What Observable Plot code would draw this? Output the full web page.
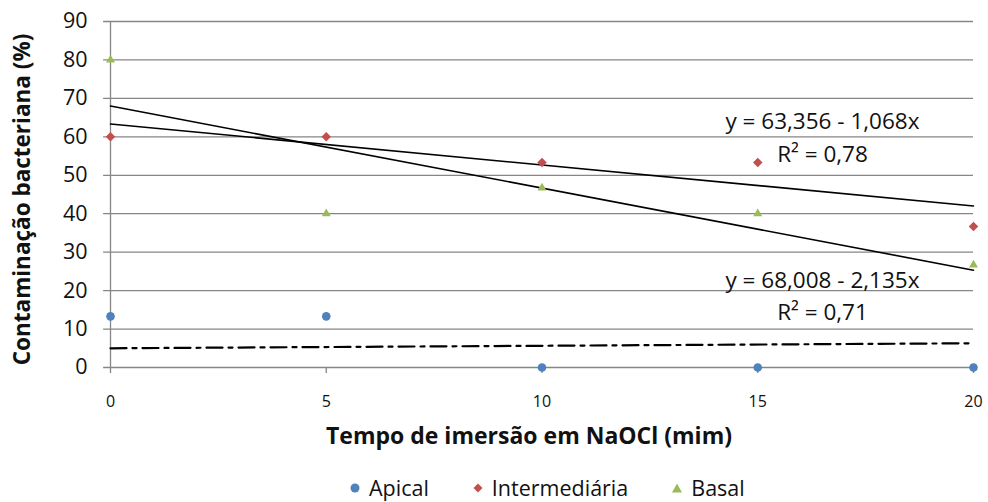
<!DOCTYPE html>
<html><head><meta charset="utf-8">
<script src="https://cdn.jsdelivr.net/npm/d3@7"></script>
<script src="https://cdn.jsdelivr.net/npm/@observablehq/plot@0.6"></script>
<style>
body{margin:0;background:#fff;font-family:"Open Sans",sans-serif;position:relative;width:988px;height:502px;overflow:hidden}
#legend{position:absolute;left:349px;top:475px;display:flex;gap:43px;font-size:21.5px;color:#111;line-height:26px}
#legend span{display:flex;align-items:center;gap:8px}
</style></head><body>
<div id="chart"></div>
<div id="legend"></div>
<script>
const times = [0, 5, 10, 15, 20];
const apical = [13.3, 13.3, 0, 0, 0];
const intermediaria = [60, 60, 53.3, 53.3, 36.7];
const basal = [80, 40, 46.7, 40, 26.7];
const seriesNames = ["Apical", "Intermediária", "Basal"];
const seriesColors = ["#4F81BD", "#C0504D", "#9BBB59"];
const seriesSymbols = ["circle", "diamond2", "triangle2"];
// trendlines: intercept, slope
const trendInter = [63.356, -1.068];
const trendBasal = [68.008, -2.135];
const apicalTrendEnds = [5.0, 6.3]; // dash-dot line values at x=0 and x=20
const labels = [
  {x: 16.5, y: 64.0, text: "y = 63,356 - 1,068x"},
  {x: 16.5, y: 55.2, text: "R² = 0,78"},
  {x: 16.5, y: 22.6, text: "y = 68,008 - 2,135x"},
  {x: 16.5, y: 14.3, text: "R² = 0,71"}
];
const yTicks = [0,10,20,30,40,50,60,70,80,90];

const pts = [];
[apical, intermediaria, basal].forEach((arr, i) => arr.forEach((v, j) => pts.push({x: times[j], y: v, s: seriesNames[i]})));
const line = (c) => [0, 20].map(x => ({x, y: c[0] + c[1]*x}));
const apLine = [{x:0,y:apicalTrendEnds[0]},{x:20,y:apicalTrendEnds[1]}];

const W = 988, H = 462;
const chart = Plot.plot({
  width: W, height: H,
  marginLeft: 110, marginRight: 15, marginTop: 21, marginBottom: H - 367,
  style: {fontFamily: "'Open Sans', sans-serif", background: "#fff", overflow: "visible"},
  x: {domain: [0, 20], ticks: times, label: null},
  y: {domain: [0, 90], ticks: yTicks, label: null},
  symbol: {domain: seriesNames, range: seriesSymbols},
  color: {domain: seriesNames, range: seriesColors},
  marks: [
    Plot.gridY(yTicks, {stroke: "#868686", strokeOpacity: 1, strokeWidth: 1.3, x1: -0.16, x2: 20}),
    Plot.ruleX([0], {stroke: "#868686", strokeWidth: 1.3}),
    Plot.axisY(yTicks, {tickSize: 0, tickPadding: 23, fontSize: 21.5, fill: "#111"}),
    Plot.axisX(times, {tickSize: 6, stroke: "#868686", strokeWidth: 1.3, tickPadding: 22, fontSize: 16, fill: "#111"}),
    Plot.line(line(trendInter), {x: "x", y: "y", stroke: "#000", strokeWidth: 1.6}),
    Plot.line(line(trendBasal), {x: "x", y: "y", stroke: "#000", strokeWidth: 1.6}),
    Plot.line(apLine, {x: "x", y: "y", stroke: "#000", strokeWidth: 2.2, strokeDasharray: "16,6,4,6"}),
    Plot.dot(pts, {x: "x", y: "y", symbol: "s", fill: "s", r: 4.3}),
    Plot.text(labels, {x: "x", y: "y", text: "text", fontSize: 22.5, fill: "#111"}),
    Plot.text(["Tempo de imersão em NaOCl (mim)"], {frameAnchor: "bottom", dy: 76, dx: -13, fontSize: 23, fontWeight: "bold", fill: "#111"}),
    Plot.text(["Contaminação bacteriana (%)"], {frameAnchor: "left", dx: -88, dy: 5, rotate: -90, textAnchor: "middle", fontSize: 22.5, fontWeight: "bold", fill: "#111"})
  ]
});
document.getElementById("chart").appendChild(chart);

const lg = document.getElementById("legend");
const shapes = {
  circle: '<circle cx="6" cy="6" r="4.5" />',
  diamond2: '<polygon points="6,1.5 10.5,6 6,10.5 1.5,6" />',
  triangle2: '<polygon points="6,1.5 11,10.5 1,10.5" />'
};
seriesNames.forEach((n, i) => {
  const s = document.createElement("span");
  s.innerHTML = `<svg width="12" height="12"><g fill="${seriesColors[i]}">${shapes[seriesSymbols[i]]}</g></svg>${n}`;
  lg.appendChild(s);
});
</script>
</body></html>
